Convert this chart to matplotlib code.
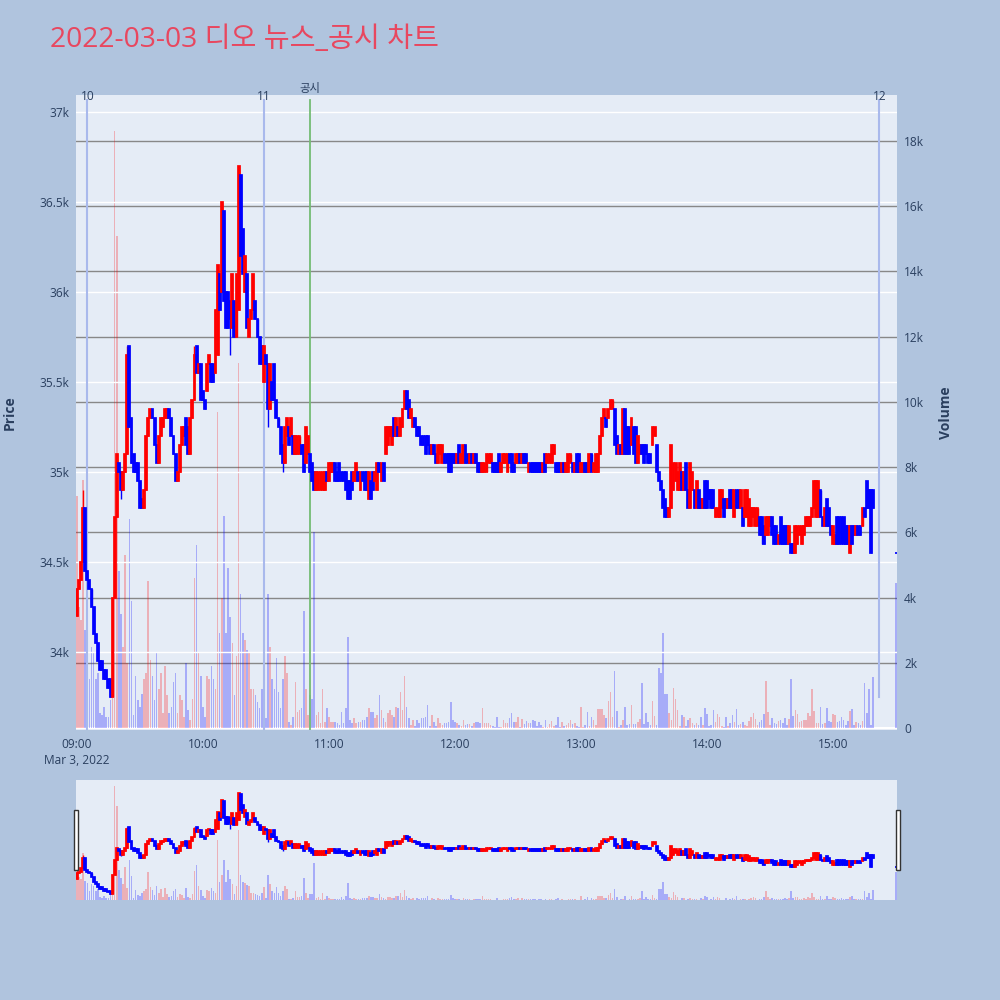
import matplotlib
matplotlib.use("Agg")
import matplotlib.pyplot as plt
from matplotlib.patches import Rectangle

plt.rcParams["font.family"] = ["Open Sans", "Noto Sans CJK KR", "DejaVu Sans"]

TITLE = "2022-03-03 디오 뉴스_공시 차트"

# 09:00 기준 분 (1분봉 09:00~15:19, 15:30 동시호가)
minutes = list(range(380)) + [390]

opens = [
    34200, 34350, 34400, 34500, 34800, 34450, 34400, 34350, 34250, 34100,
    34050, 33950, 33950, 33900, 33900, 33850, 33850, 33750, 34300, 34750,
    35050, 35000, 34900, 35000, 35100, 35700, 35300, 35100, 35050, 35050,
    34950, 34850, 34800, 34900, 35200, 35300, 35350, 35300, 35150, 35050,
    35200, 35250, 35300, 35300, 35350, 35300, 35200, 35100, 34950, 35000,
    35150, 35200, 35300, 35250, 35100, 35300, 35400, 35700, 35550, 35600,
    35450, 35400, 35450, 35600, 35600, 35600, 35550, 35650, 36100, 36000,
    36450, 36000, 36000, 35950, 35800, 35950, 35750, 35900, 36650, 36350,
    36000, 36100, 35750, 35850, 35900, 35950, 35850, 35750, 35700, 35500,
    35650, 35600, 35350, 35500, 35600, 35400, 35300, 35250, 35150, 35050,
    35200, 35250, 35200, 35200, 35100, 35100, 35100, 35150, 35150, 35050,
    35100, 35100, 35050, 35000, 34900, 34900, 34900, 34900, 34900, 35000,
    34950, 35000, 35000, 35050, 35000, 35050, 35000, 35000, 35000, 34950,
    34950, 35000, 34950, 34950, 35000, 34900, 35000, 35000, 35000, 34850,
    34950, 35000, 34950, 34900, 35050, 34950, 35050, 35100, 35150, 35200,
    35150, 35300, 35200, 35250, 35200, 35250, 35350, 35450, 35400, 35300,
    35250, 35300, 35250, 35250, 35200, 35200, 35200, 35200, 35150, 35100,
    35150, 35100, 35050, 35100, 35050, 35100, 35100, 35100, 35100, 35100,
    35100, 35050, 35150, 35050, 35050, 35150, 35100, 35050, 35100, 35050,
    35100, 35050, 35050, 35000, 35000, 35000, 35050, 35050, 35050, 35050,
    35050, 35100, 35000, 35050, 35050, 35000, 35100, 35100, 35050, 35050,
    35050, 35100, 35050, 35100, 35100, 35000, 35050, 35050, 35050, 35050,
    35050, 35050, 35000, 35100, 35050, 35050, 35050, 35100, 35050, 35050,
    35050, 35000, 35050, 35000, 35000, 35050, 35050, 35000, 35100, 35100,
    35000, 35000, 35050, 35050, 35000, 35100, 35000, 35000, 35000, 35100,
    35200, 35300, 35300, 35300, 35350, 35350, 35350, 35200, 35100, 35150,
    35100, 35350, 35250, 35250, 35150, 35250, 35250, 35050, 35100, 35150,
    35150, 35150, 35100, 35100, 35150, 35200, 35150, 35000, 34950, 34900,
    34850, 34800, 34750, 34800, 34900, 34950, 34900, 34900, 35000, 34900,
    35050, 34900, 34800, 34900, 34900, 34800, 34900, 34850, 34800, 34950,
    34950, 34900, 34900, 34900, 34750, 34750, 34750, 34800, 34850, 34850,
    34800, 34900, 34900, 34750, 34900, 34900, 34800, 34800, 34750, 34750,
    34700, 34700, 34750, 34700, 34700, 34750, 34750, 34700, 34650, 34650,
    34700, 34750, 34700, 34700, 34600, 34750, 34700, 34700, 34700, 34600,
    34600, 34600, 34550, 34600, 34650, 34600, 34650, 34700, 34700, 34700,
    34750, 34800, 34750, 34750, 34900, 34750, 34700, 34850, 34800, 34700,
    34600, 34600, 34750, 34750, 34750, 34750, 34700, 34700, 34550, 34700,
    34700, 34650, 34700, 34700, 34700, 34800, 34950, 34900, 34900, 34900,
    34550,
]

closes = [
    34350, 34400, 34500, 34800, 34450, 34400, 34350, 34250, 34100, 34050,
    33950, 33900, 33900, 33850, 33850, 33800, 33750, 34300, 34750, 35100,
    35000, 34900, 35000, 35100, 35650, 35250, 35050, 35000, 35000, 34950,
    34800, 34800, 34900, 35200, 35300, 35350, 35300, 35150, 35050, 35200,
    35300, 35300, 35350, 35350, 35300, 35200, 35100, 34950, 35000, 35150,
    35250, 35250, 35150, 35100, 35300, 35400, 35650, 35550, 35600, 35400,
    35400, 35350, 35600, 35650, 35500, 35500, 35900, 36150, 35900, 36500,
    35950, 35800, 35800, 35850, 36100, 35750, 36100, 36700, 36200, 36100,
    36200, 35800, 35850, 35900, 36100, 35850, 35750, 35600, 35600, 35700,
    35600, 35350, 35600, 35400, 35400, 35300, 35250, 35100, 35050, 35250,
    35300, 35150, 35300, 35100, 35200, 35200, 35200, 35100, 35000, 35250,
    35200, 35000, 34950, 34900, 35000, 35000, 35000, 35000, 35000, 34950,
    35050, 35050, 35050, 34950, 34950, 34950, 34950, 34950, 34900, 34850,
    34850, 34900, 35000, 35050, 34950, 35000, 34950, 34900, 34900, 35000,
    34850, 34900, 35000, 35050, 35000, 35050, 34950, 35250, 35250, 35250,
    35250, 35200, 35300, 35200, 35300, 35350, 35450, 35350, 35300, 35350,
    35300, 35250, 35200, 35200, 35150, 35150, 35100, 35150, 35100, 35150,
    35100, 35050, 35150, 35150, 35150, 35050, 35050, 35000, 35000, 35050,
    35050, 35100, 35050, 35100, 35150, 35050, 35050, 35100, 35050, 35100,
    35050, 35000, 35000, 35050, 35050, 35100, 35100, 35100, 35000, 35000,
    35000, 35000, 35050, 35100, 35100, 35100, 35050, 35000, 35000, 35100,
    35100, 35050, 35100, 35050, 35050, 35050, 35000, 35000, 35000, 35000,
    35000, 35000, 35050, 35000, 35100, 35100, 35150, 35150, 35000, 35000,
    35000, 35050, 35000, 35050, 35100, 35100, 35000, 35050, 35000, 35000,
    35050, 35050, 35000, 35000, 35100, 35000, 35050, 35100, 35100, 35200,
    35300, 35350, 35250, 35350, 35400, 35400, 35150, 35100, 35150, 35100,
    35350, 35100, 35100, 35100, 35300, 35100, 35050, 35200, 35150, 35100,
    35050, 35100, 35050, 35050, 35250, 35250, 35000, 34950, 34900, 34800,
    34750, 34750, 34800, 35150, 35050, 35050, 35000, 35050, 34900, 35000,
    34900, 34800, 35050, 35000, 34800, 34950, 34800, 34800, 34850, 34800,
    34800, 34850, 34800, 34800, 34800, 34800, 34900, 34900, 34750, 34800,
    34850, 34800, 34800, 34900, 34800, 34800, 34900, 34700, 34900, 34900,
    34850, 34800, 34800, 34800, 34800, 34650, 34650, 34600, 34750, 34750,
    34750, 34650, 34600, 34600, 34650, 34600, 34600, 34600, 34600, 34700,
    34550, 34550, 34700, 34700, 34700, 34700, 34700, 34750, 34750, 34750,
    34800, 34950, 34950, 34950, 34750, 34700, 34800, 34700, 34700, 34650,
    34700, 34650, 34600, 34600, 34600, 34600, 34600, 34600, 34700, 34600,
    34650, 34700, 34650, 34650, 34800, 34750, 34800, 34800, 34550, 34800,
    34550,
]

# 꼬리 (고가/저가가 몸통 밖인 봉만)
wick_high = {3: 34900, 24: 35700, 56: 35700, 77: 36700, 376: 34950}
wick_low = {16: 33750, 21: 34850, 73: 35650, 91: 35250, 98: 35000, 326: 34600}

# 거래량 (천주)
volume_k = [
    7.1, 3.7, 3.3, 7.6, 3.0, 2.7, 1.5, 2.5, 2.3, 1.5,
    1.7, 0.45, 0.4, 0.65, 0.35, 0.35, 0.85, 1.5, 18.3, 15.1,
    4.8, 3.5, 2.5, 5.3, 2.0, 6.4, 3.9, 0.4, 1.6, 0.85,
    0.65, 1.05, 1.5, 1.7, 4.5, 2.1, 1.6, 0.85, 2.3, 1.2,
    1.7, 0.45, 1.9, 1.0, 0.45, 0.65, 1.4, 1.7, 0.45, 1.0,
    0.85, 0.35, 2.0, 0.55, 0.25, 0.9, 4.6, 5.6, 2.3, 1.6,
    0.65, 0.35, 1.6, 1.5, 1.9, 1.5, 1.2, 9.7, 2.9, 4.0,
    6.5, 2.9, 4.9, 3.4, 2.6, 1.0, 2.2, 11.2, 4.1, 2.9,
    2.7, 2.4, 2.3, 1.2, 1.2, 1.0, 0.8, 0.6, 1.2, 2.1,
    0.3, 4.1, 2.5, 1.5, 1.2, 2.15, 1.1, 0.6, 1.5, 2.2,
    1.7, 0.2, 0.1, 0.35, 1.4, 0.5, 0.55, 0.6, 3.6, 1.2,
    0.4, 1.0, 0.9, 6.0, 0.4, 0.5, 0.15, 1.2, 0.2, 0.6,
    0.35, 0.2, 0.2, 0.2, 0.15, 0.1, 0.5, 0.15, 0.6, 2.8,
    0.25, 0.15, 0.3, 0.15, 0.2, 0.2, 0.25, 0.25, 0.35, 0.6,
    0.5, 0.5, 0.3, 0.4, 1.0, 0.55, 0.3, 0.2, 0.45, 0.55,
    0.4, 0.35, 0.65, 0.6, 1.1, 0.55, 1.6, 0.65, 0.3, 0.1,
    0.25, 0.05, 0.25, 0.15, 0.3, 0.32, 0.35, 0.7, 0.05, 0.4,
    0.2, 0.05, 0.3, 0.15, 0.1, 0.15, 0.15, 0.2, 0.8, 0.25,
    0.2, 0.15, 0.1, 0.05, 0.25, 0.1, 0.12, 0.12, 0.05, 0.15,
    0.2, 0.2, 0.15, 0.6, 0.15, 0.15, 0.14, 0.09, 0.06, 0.04,
    0.35, 0.04, 0.03, 0.24, 0.14, 0.16, 0.32, 0.45, 0.19, 0.19,
    0.35, 0.04, 0.27, 0.11, 0.21, 0.14, 0.16, 0.24, 0.22, 0.06,
    0.18, 0.09, 0.04, 0.24, 0.02, 0.12, 0.21, 0.06, 0.09, 0.33,
    0.04, 0.18, 0.06, 0.08, 0.14, 0.24, 0.11, 0.16, 0.06, 0.04,
    0.65, 0.04, 0.09, 0.5, 0.06, 0.33, 0.24, 0.09, 0.58, 0.58,
    0.57, 0.4, 0.3, 0.83, 1.09, 0.35, 1.76, 0.52, 0.02, 0.09,
    0.24, 0.63, 0.08, 0.12, 0.71, 0.12, 0.11, 0.17, 0.28, 1.37,
    0.12, 0.45, 0.18, 0.09, 0.83, 0.38, 0.09, 1.83, 1.7, 2.92,
    1.04, 1.03, 0.45, 0.26, 1.24, 0.88, 0.55, 0.06, 0.4, 0.35,
    0.06, 0.24, 0.3, 0.14, 0.09, 0.14, 0.08, 0.35, 0.09, 0.6,
    0.42, 0.06, 0.09, 0.55, 0.18, 0.42, 0.33, 0.06, 0.04, 0.35,
    0.06, 0.16, 0.4, 0.18, 0.57, 0.08, 0.12, 0.18, 0.1, 0.06,
    0.21, 0.35, 0.45, 0.27, 0.08, 0.18, 0.24, 0.43, 1.44, 0.48,
    0.09, 0.32, 0.16, 0.11, 0.22, 0.24, 0.15, 0.3, 0.09, 0.27,
    1.5, 0.37, 0.54, 0.43, 0.19, 0.22, 0.26, 0.24, 0.46, 0.37,
    1.2, 0.51, 0.14, 0.16, 0.63, 0.12, 0.14, 0.6, 0.21, 0.19,
    0.43, 0.4, 0.19, 0.22, 0.34, 0.24, 0.09, 0.22, 0.51, 0.57,
    0.09, 0.18, 0.14, 0.09, 0.22, 1.37, 0.45, 1.2, 0.09, 1.55,
    4.45,
]

# 뉴스/공시 시각 (09:00 기준 분)
news_marks = [("10", 5), ("11", 89), ("12", 382)]
disclosure_mark = ("공시", 111)

price_ticks = [34000, 34500, 35000, 35500, 36000, 36500, 37000]
price_labels = ["34k", "34.5k", "35k", "35.5k", "36k", "36.5k", "37k"]
vol_ticks = [0, 2, 4, 6, 8, 10, 12, 14, 16, 18]
vol_labels = ["0", "2k", "4k", "6k", "8k", "10k", "12k", "14k", "16k", "18k"]
time_ticks = [0, 60, 120, 180, 240, 300, 360]
time_labels = ["09:00\nMar 3, 2022", "10:00", "11:00", "12:00", "13:00", "14:00", "15:00"]

UP, DOWN = "#ff0000", "#0000ff"
UP_VOL, DOWN_VOL = (1, 0, 0, 0.25), (0, 0, 1, 0.27)
TEXT = "#2a3f5f"
PLOT_BG = "#e5ecf6"
FIG_BG = "#b0c4de"


def draw_chart(ax_vol, ax_px):
    up = [c > o for o, c in zip(opens, closes)]
    ax_vol.bar(minutes, volume_k, width=0.75, linewidth=0,
               color=[UP_VOL if u else DOWN_VOL for u in up], zorder=2)
    cols = [UP if u else DOWN for u in up]
    hi = [wick_high.get(m, max(o, c)) for m, o, c in zip(minutes, opens, closes)]
    lo = [wick_low.get(m, min(o, c)) for m, o, c in zip(minutes, opens, closes)]
    ax_px.vlines(minutes, lo, hi, colors=cols, linewidth=1.0, zorder=3)
    ax_px.bar(minutes, [abs(c - o) for o, c in zip(opens, closes)],
              bottom=[min(o, c) for o, c in zip(opens, closes)],
              width=0.9, color=cols, edgecolor=cols, linewidth=1.25, zorder=4)
    ax_px.set_xlim(-0.4, 390.4)
    ax_px.set_ylim(33567, 37094)
    ax_vol.set_ylim(-0.06, 19.41)
    for a in (ax_vol, ax_px):
        for s in a.spines.values():
            s.set_visible(False)


fig = plt.figure(figsize=(10, 10), dpi=100, facecolor=FIG_BG)

# 메인 차트
ax_vol = fig.add_axes([0.076, 0.27, 0.821, 0.635])
ax_vol.set_facecolor(PLOT_BG)
ax_px = ax_vol.twinx()
draw_chart(ax_vol, ax_px)

for v in vol_ticks[1:]:
    ax_vol.axhline(v, color="#888888", linewidth=1, zorder=1)
ax_vol.axhline(0, color="white", linewidth=1.5, zorder=1)
for p in price_ticks:
    ax_px.axhline(p, color="white", linewidth=1, zorder=1)

ax_vol.yaxis.tick_right()
ax_px.yaxis.tick_left()
ax_vol.set_yticks(vol_ticks, vol_labels)
ax_px.set_yticks(price_ticks, price_labels)
ax_vol.set_xticks(time_ticks, time_labels)
for a in (ax_vol, ax_px):
    a.tick_params(length=0, labelsize=8.6, labelcolor=TEXT, pad=5)
ax_vol.tick_params(axis="x", pad=6)
for t in ax_vol.get_xticklabels():
    t.set_linespacing(1.3)

xtr = ax_px.get_xaxis_transform()
for label, m in news_marks:
    ymin = 0.052 if label == "12" else 0.0
    ax_px.axvline(m, ymin=ymin, ymax=0.992, color="#a9b9ec", linewidth=1.5, zorder=2)
    ax_px.text(m, 0.997, label, transform=xtr, ha="center", va="center",
               fontsize=8.6, color=TEXT, zorder=6)
ax_px.axvline(disclosure_mark[1], ymin=0, ymax=0.992, color="#74bc74",
              linewidth=1.3, zorder=2)
ax_px.text(disclosure_mark[1], 1.008, disclosure_mark[0], transform=xtr,
           ha="center", va="center", fontsize=8.2, color=TEXT, clip_on=False)

fig.text(0.010, 0.587, "Price", rotation=90, ha="center", va="center",
         fontsize=10, fontweight="bold", color=TEXT)
fig.text(0.946, 0.587, "Volume", rotation=90, ha="center", va="center",
         fontsize=10, fontweight="bold", color=TEXT)
fig.text(0.05, 0.96, TITLE, ha="left", va="center", fontsize=20.3, color="#e8475f")

# 레인지 슬라이더
sl_vol = fig.add_axes([0.076, 0.10, 0.821, 0.12])
sl_vol.set_facecolor(PLOT_BG)
sl_px = sl_vol.twinx()
draw_chart(sl_vol, sl_px)
sl_px.set_ylim(33575, 37070)
sl_vol.set_ylim(0, 19.3)
for a in (sl_vol, sl_px):
    a.set_xticks([])
    a.set_yticks([])

for hx in (0.0735, 0.8955):
    fig.add_artist(Rectangle((hx, 0.13), 0.0042, 0.06, transform=fig.transFigure,
                             facecolor="white", edgecolor="#333333", linewidth=1))

fig.savefig("out.png", dpi=100, facecolor=FIG_BG)
